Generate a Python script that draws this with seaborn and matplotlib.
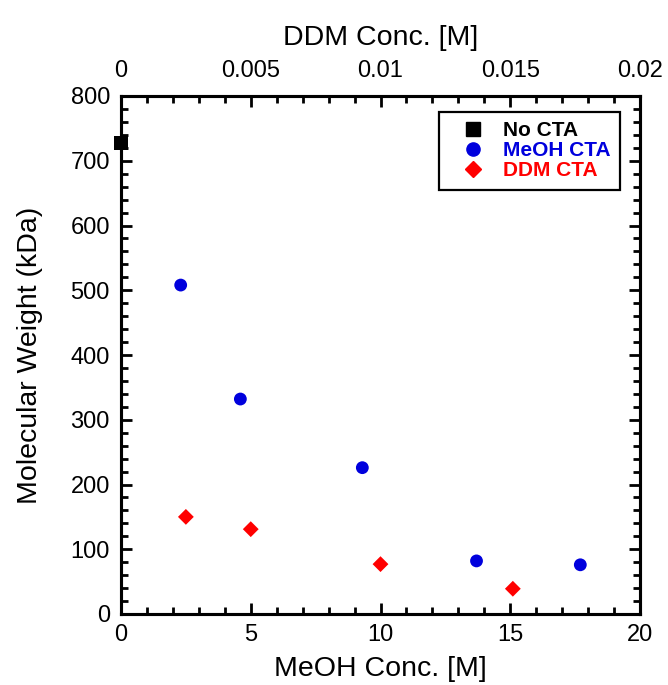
import matplotlib
matplotlib.use("Agg")
import matplotlib.pyplot as plt
import seaborn as sns
import pandas as pd
from matplotlib.ticker import MultipleLocator, FuncFormatter
from matplotlib.lines import Line2D

sns.set_style("ticks")
plt.rcParams['font.family'] = ['Liberation Sans', 'DejaVu Sans']
plt.rcParams['text.color'] = 'black'
plt.rcParams['axes.labelcolor'] = 'black'
plt.rcParams['xtick.color'] = 'black'
plt.rcParams['ytick.color'] = 'black'

# Data
nocta_x = [0.0]
nocta_y = [727]
meoh_x = [2.3, 4.6, 9.3, 13.7, 17.7]
meoh_y = [508, 332, 226, 82, 76]
ddm_x = [0.0025, 0.005, 0.010, 0.0151]
ddm_y = [150, 131, 77, 39]

fig = plt.figure(figsize=(6.68, 6.85), dpi=100)
ax = fig.add_axes([121/668, 1 - 614/685, (640 - 121)/668, (614 - 96)/685])

df_no = pd.DataFrame({"x": nocta_x, "y": nocta_y})
df_me = pd.DataFrame({"x": meoh_x, "y": meoh_y})
df_dd = pd.DataFrame({"x": ddm_x, "y": ddm_y})

sns.scatterplot(data=df_no, x="x", y="y", ax=ax, marker="s", color="black", s=100,
                edgecolor="none", clip_on=False, zorder=5)
sns.scatterplot(data=df_me, x="x", y="y", ax=ax, marker="o", color="#0000dd", s=85,
                edgecolor="none", clip_on=False, zorder=5)
ax.set_xlim(0, 20)
ax.set_ylim(0, 800)

ax2 = ax.twiny()
sns.scatterplot(data=df_dd, x="x", y="y", ax=ax2, marker="D", color="#ff0000", s=65,
                edgecolor="none", clip_on=False, zorder=5)
ax2.set_xlim(0, 0.02)
ax2.set_ylim(0, 800)

lw = 2.2
for a in (ax, ax2):
    for sp in a.spines.values():
        sp.set_linewidth(lw)
        sp.set_visible(True)
        sp.set_color("black")

tick_fs = 17
label_fs = 20.5

ax.xaxis.set_major_locator(MultipleLocator(5))
ax.xaxis.set_minor_locator(MultipleLocator(1))
ax.yaxis.set_major_locator(MultipleLocator(100))
ax.yaxis.set_minor_locator(MultipleLocator(20))
ax.tick_params(axis="both", which="major", direction="in", length=8, width=2,
               labelsize=tick_fs)
ax.tick_params(axis="x", which="major", pad=7.5)
ax.tick_params(axis="y", which="major", pad=8)
ax.tick_params(axis="both", which="minor", direction="in", length=5, width=2)
ax.tick_params(axis="y", which="both", right=True, labelright=False)
ax.tick_params(axis="x", which="both", top=False, bottom=True)

ax2.xaxis.set_major_locator(MultipleLocator(0.005))
ax2.xaxis.set_minor_locator(MultipleLocator(0.001))
ax2.xaxis.set_major_formatter(FuncFormatter(lambda v, p: "0" if abs(v) < 1e-12 else f"{v:g}"))
ax2.tick_params(axis="x", which="major", direction="in", length=8, width=2,
                labelsize=tick_fs, pad=10)
ax2.tick_params(axis="x", which="minor", direction="in", length=5, width=2)

ax.set_xlabel("MeOH Conc. [M]", fontsize=label_fs, labelpad=7)
ax.set_ylabel("Molecular Weight (kDa)", fontsize=label_fs, labelpad=20)
ax2.set_xlabel("DDM Conc. [M]", fontsize=label_fs, labelpad=11)
ax2.set_ylabel("")

handles = [
    Line2D([], [], marker="s", color="black", linestyle="none", markersize=9.5),
    Line2D([], [], marker="o", color="#0000dd", linestyle="none", markersize=9.5),
    Line2D([], [], marker="D", color="#ff0000", linestyle="none", markersize=8.5),
]
labels = ["No CTA", "MeOH CTA", "DDM CTA"]
leg = ax2.legend(handles, labels, loc="upper right",
                 bbox_to_anchor=((620 - 121) / 519, (614 - 112) / 518),
                 borderaxespad=0, frameon=True, fancybox=False, edgecolor="black",
                 framealpha=1, prop={"weight": "bold", "size": 15},
                 handletextpad=0.3, borderpad=0.45, labelspacing=0.05,
                 handlelength=2.3)
leg.get_frame().set_linewidth(1.6)
cols = ["black", "#0000dd", "#ff0000"]
for t, c in zip(leg.get_texts(), cols):
    t.set_color(c)

fig.savefig("out.png", dpi=100)
